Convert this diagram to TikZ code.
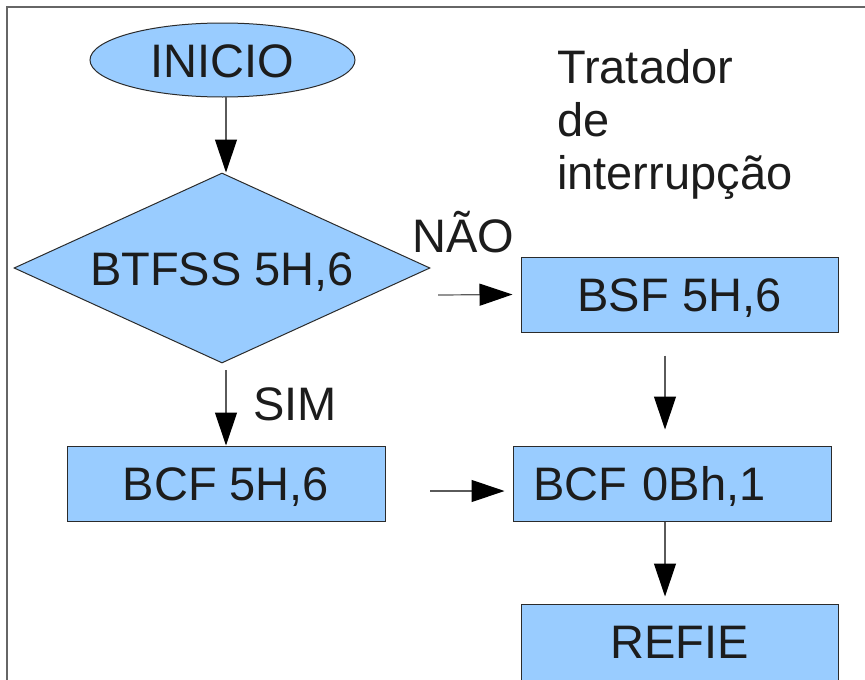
\documentclass[tikz,border=0pt]{standalone}
\usepackage{fontspec}
\setmainfont{Liberation Sans}
\usetikzlibrary{shapes.geometric,arrows.meta}
\definecolor{boxfill}{HTML}{99CCFF}
\definecolor{edge}{HTML}{2B2B2B}
\definecolor{ink}{HTML}{1C1C1C}
\definecolor{wire}{HTML}{5A5A5A}
\definecolor{framec}{HTML}{666666}
\begin{document}
\begin{tikzpicture}[x=1pt,y=-1pt,
  every node/.style={font=\fontsize{47}{53}\selectfont, text=ink},
  shaped/.style={draw=edge, line width=1pt, fill=boxfill, inner sep=0pt,
                 text height=34pt, text depth=0pt},
  blk/.style={shaped, minimum width=317pt, minimum height=75pt},
  arr/.style={draw=wire, line width=1.2pt,
              -{Triangle[length=33pt,width=22pt,color=black]}},
  lbl/.style={anchor=base, inner sep=0pt}]
  \useasboundingbox (0,0) rectangle (865,680);

  % outer frame (only top and left edges fall inside the page)
  \draw[framec, line width=1.5pt] (7,700) -- (7,7) -- (880,7);

  % main flow
  \node[shaped, ellipse, minimum width=265pt, minimum height=74pt] (ini) at (222.5,60) {INICIO};
  \node[shaped, diamond, aspect=2.19, minimum width=416pt, minimum height=190pt] (dec) at (222,268) {BTFSS 5H,6};
  \node[blk, minimum width=318pt] (bcf5) at (226,483.5) {BCF 5H,6};

  % interrupt handler
  \node[anchor=north west, align=left, inner sep=0pt] (title) at (557,49.5) {Tratador\\de\\interrupção};
  \node[blk] (bsf) at (679.5,294.5) {BSF 5H,6};
  \node[blk, minimum width=318pt, text width=278pt, align=left] (bcf0) at (672,483.5) {BCF 0Bh,1};
  \node[blk, minimum height=80pt, text depth=6pt] (refie) at (679.5,644) {REFIE};

  % branch labels
  \node[lbl] (nao) at (463.5,252) {NÃO};
  \node[lbl] (sim) at (295,420) {SIM};

  % connectors
  \coordinate (t1) at (226,97);
  \draw[arr] (t1) -- (t1 |- dec.north);
  \coordinate (t2) at (438,295);
  \draw[arr] (t2) -- ([xshift=-8pt]bsf.west);
  \coordinate (t3) at (226,370);
  \draw[arr] (t3) -- (t3 |- bcf5.north);
  \coordinate (t4) at (430,491);
  \draw[arr] (t4) -- ([xshift=-8pt,yshift=-7.5pt]bcf0.west);
  \coordinate (t5) at ([xshift=-14.5pt,yshift=-23pt]bsf.south);
  \draw[arr] (t5) -- ([xshift=-7pt,yshift=16pt]bcf0.north);
  \coordinate (t6) at ([xshift=-7pt]bcf0.south);
  \draw[arr] (t6) -- ([xshift=-14.5pt,yshift=7pt]refie.north);
\end{tikzpicture}
\end{document}
